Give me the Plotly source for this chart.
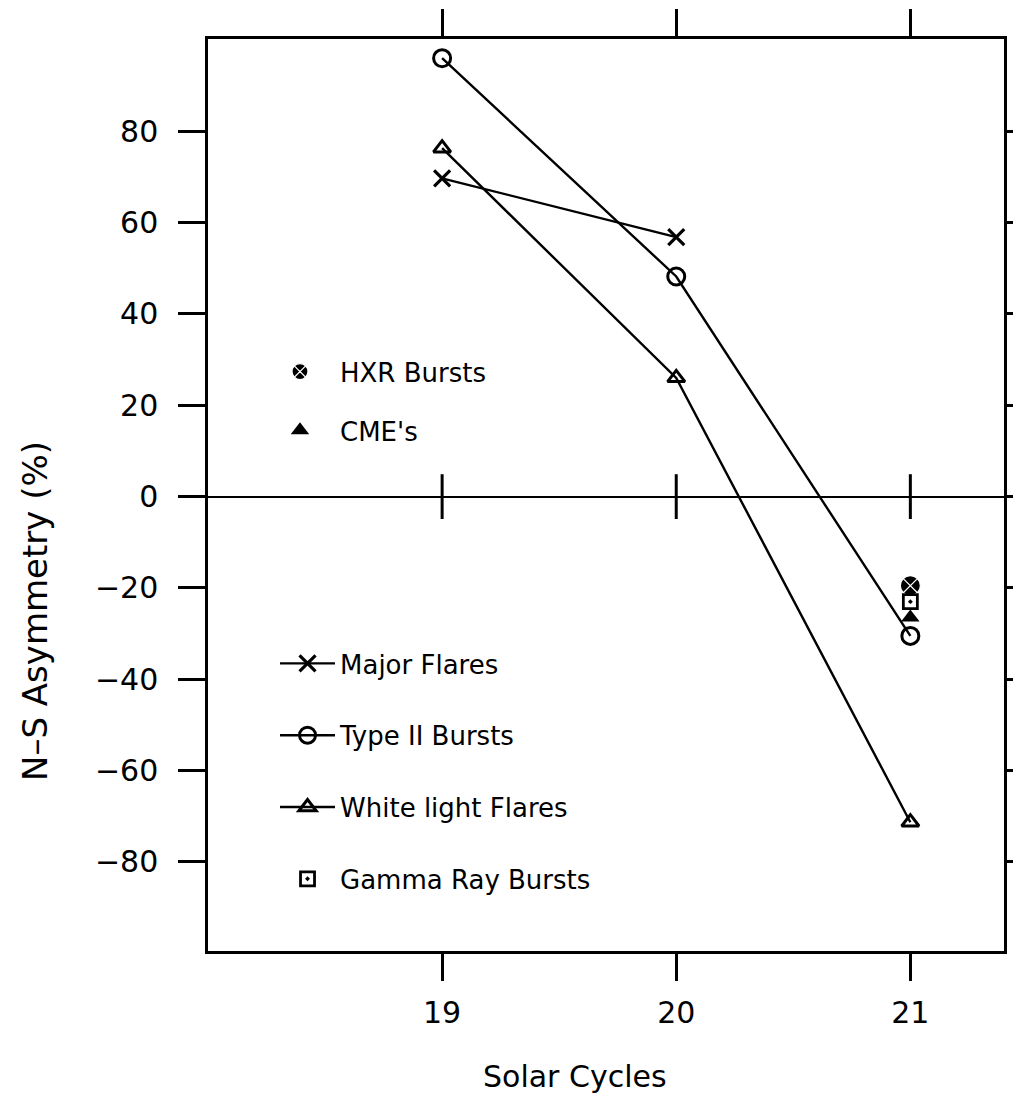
import plotly.graph_objects as go

# ---- data ----
cycles = [19, 20, 21]
major_cycles = [19, 20]
major_flares = [69.7, 56.8]
type2_bursts = [96.0, 48.2, -30.5]
wl_flares = [76.3, 26.0, -71.3]
single_cycle = [21]
hxr_bursts = [-19.5]
cmes = [-26.5]
gamma_bursts = [-23.0]
zero_ticks = [0, 0, 0]
y_ticks = [-80, -60, -40, -20, 0, 20, 40, 60, 80]
x_ticks = [19, 20, 21]

FONT = "DejaVu Sans"
BLACK = "black"

fig = go.Figure()

# zero-line cross ticks
fig.add_trace(go.Scatter(
    x=cycles, y=zero_ticks, mode="markers", showlegend=False, hoverinfo="skip",
    marker=dict(symbol="line-ns", size=32, line=dict(width=3, color=BLACK))))

# legend 1 entries (single points)
fig.add_trace(go.Scatter(
    x=single_cycle, y=hxr_bursts, mode="markers", name="HXR Bursts",
    legend="legend", legendgroup="hxr",
    marker=dict(symbol="circle-x", size=20, color=BLACK, line=dict(width=1.2, color="white"))))
fig.add_trace(go.Scatter(
    x=single_cycle, y=cmes, mode="markers", name="CME's",
    legend="legend", legendgroup="cme",
    marker=dict(symbol="triangle-up", size=16, color=BLACK, line=dict(width=0))))

# legend 2 entries
fig.add_trace(go.Scatter(
    x=major_cycles, y=major_flares, mode="lines+markers", name="Major Flares",
    legend="legend2", legendgroup="mf",
    line=dict(color=BLACK, width=2.4),
    marker=dict(symbol="x-thin-open", size=16, color=BLACK, line=dict(width=3.2, color=BLACK))))
fig.add_trace(go.Scatter(
    x=cycles, y=type2_bursts, mode="lines+markers", name="Type II Bursts",
    legend="legend2", legendgroup="t2",
    line=dict(color=BLACK, width=2.4),
    marker=dict(symbol="circle-open", size=17, color=BLACK, line=dict(width=3, color=BLACK))))
fig.add_trace(go.Scatter(
    x=cycles, y=wl_flares, mode="lines+markers", name="White light Flares",
    legend="legend2", legendgroup="wl",
    line=dict(color=BLACK, width=2.4),
    marker=dict(symbol="triangle-up-open", size=15, color=BLACK, line=dict(width=3, color=BLACK))))
fig.add_trace(go.Scatter(
    x=single_cycle, y=gamma_bursts, mode="markers", name="Gamma Ray Bursts",
    legend="legend2", legendgroup="gr",
    marker=dict(symbol="square-open-dot", size=14, color=BLACK, line=dict(width=2.8, color=BLACK))))

axis_common = dict(
    showline=True, linecolor=BLACK, linewidth=2.5, mirror="ticks",
    ticks="outside", ticklen=27, tickwidth=3, tickcolor=BLACK,
    showgrid=False, automargin=False,
    tickfont=dict(family=FONT, size=30, color=BLACK),
)

fig.update_xaxes(range=[18.0, 21.4], tickvals=x_ticks, ticktext=[str(v) for v in x_ticks],
                 zeroline=False, ticklabelstandoff=6, **axis_common)
fig.update_yaxes(range=[-99.5, 100.2], tickvals=y_ticks,
                 zeroline=True, zerolinecolor=BLACK, zerolinewidth=2.4,
                 ticklabelstandoff=14, **axis_common)

legend_font = dict(family=FONT, size=26, color=BLACK)
fig.update_layout(
    width=1021, height=1099,
    margin=dict(l=200, r=25, t=31, b=156, autoexpand=False),
    paper_bgcolor="white", plot_bgcolor="white",
    font=dict(family=FONT, color=BLACK),
    legend=dict(x=0.0653, y=0.661, xanchor="left", yanchor="top",
                bgcolor="rgba(0,0,0,0)", font=legend_font,
                traceorder="grouped", tracegroupgap=22, itemwidth=70),
    legend2=dict(x=0.0842, y=0.341, xanchor="left", yanchor="top",
                 bgcolor="rgba(0,0,0,0)", font=legend_font,
                 traceorder="grouped", tracegroupgap=35, itemwidth=55),
    annotations=[
        dict(text="Solar Cycles", x=0.461, y=-0.138, xref="paper", yref="paper",
             xanchor="center", yanchor="middle", showarrow=False,
             font=dict(family=FONT, size=30, color=BLACK)),
        dict(text="N–S Asymmetry (%)", x=-0.2173, y=0.3728, xref="paper", yref="paper",
             xanchor="center", yanchor="middle", showarrow=False, textangle=-90,
             font=dict(family=FONT, size=34, color=BLACK)),
    ],
)

fig.write_html("out.html")
